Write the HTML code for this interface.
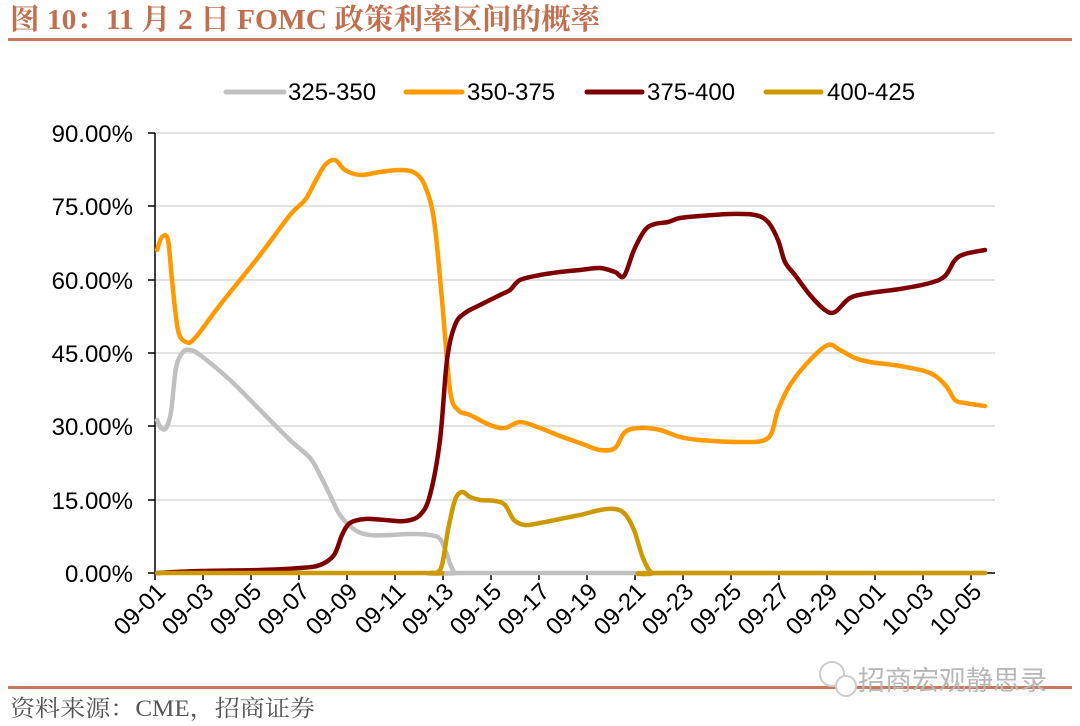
<!DOCTYPE html>
<html><head><meta charset="utf-8"><style>
body{margin:0;background:#fff;width:1080px;height:726px;overflow:hidden;}
svg{display:block}
</style></head><body>
<svg width="1080" height="726" xmlns="http://www.w3.org/2000/svg">
<text x="10" y="29" font-family="Liberation Serif, Noto Serif CJK SC, serif" font-weight="bold" font-size="29" fill="#c0704f" textLength="590" lengthAdjust="spacingAndGlyphs">图 10：11 月 2 日 FOMC 政策利率区间的概率</text>
<rect x="8" y="38" width="1064" height="3" fill="#c8775a"/>
<g font-family="Liberation Sans, Arial, sans-serif" font-size="24" fill="#000">
<line x1="226" y1="92" x2="284" y2="92" stroke="#c0c0c0" stroke-width="5" stroke-linecap="round"/><text x="288" y="100">325-350</text>
<line x1="406" y1="92" x2="462" y2="92" stroke="#ff9900" stroke-width="5" stroke-linecap="round"/><text x="467" y="100">350-375</text>
<line x1="587" y1="92" x2="642" y2="92" stroke="#7f0000" stroke-width="5" stroke-linecap="round"/><text x="647" y="100">375-400</text>
<line x1="766" y1="92" x2="821" y2="92" stroke="#cc9900" stroke-width="5" stroke-linecap="round"/><text x="827" y="100">400-425</text>
</g>
<g stroke="#d9d9d9" stroke-width="1.5">
<line x1="155" y1="133" x2="995" y2="133"/><line x1="155" y1="206" x2="995" y2="206"/><line x1="155" y1="280" x2="995" y2="280"/><line x1="155" y1="353" x2="995" y2="353"/><line x1="155" y1="426" x2="995" y2="426"/><line x1="155" y1="500" x2="995" y2="500"/>
</g>
<g stroke="#000" stroke-width="1.5">
<line x1="155" y1="133" x2="155" y2="573"/><line x1="148" y1="573" x2="995" y2="573"/>
<line x1="148" y1="133" x2="155" y2="133"/><line x1="148" y1="206" x2="155" y2="206"/><line x1="148" y1="280" x2="155" y2="280"/><line x1="148" y1="353" x2="155" y2="353"/><line x1="148" y1="426" x2="155" y2="426"/><line x1="148" y1="500" x2="155" y2="500"/>
</g>
<g font-family="Liberation Sans, Arial, sans-serif" font-size="24" text-anchor="end">
<text x="133" y="142">90.00%</text><text x="133" y="215">75.00%</text><text x="133" y="289">60.00%</text><text x="133" y="362">45.00%</text><text x="133" y="435">30.00%</text><text x="133" y="509">15.00%</text><text x="133" y="582">0.00%</text>
</g>
<g id="ticks" stroke="#000" stroke-width="1.5"></g>
<g id="xl" font-family="Liberation Sans, Arial, sans-serif" font-size="24" text-anchor="end"></g>
<g fill="none" stroke-width="4.5" stroke-linejoin="round" stroke-linecap="round">
<path id="p1" stroke="#c0c0c0"/>
<path id="p2" stroke="#ff9900"/>
<path id="p3" stroke="#7f0000"/>
<path id="p4" stroke="#cc9900"/>
</g>
<rect x="8" y="686" width="1064" height="3" fill="#c8775a"/>
<text x="10" y="716" font-family="Liberation Serif, Noto Serif CJK SC, serif" font-size="23" fill="#555" textLength="305" lengthAdjust="spacingAndGlyphs">资料来源：CME，招商证券</text>
<text x="858" y="690" font-family="Liberation Sans, Noto Sans CJK SC, sans-serif" font-size="27" fill="#b8b8b8">招商宏观静思录</text>
<circle cx="832" cy="674" r="12" fill="#fff" stroke="#ccc" stroke-width="2"/><circle cx="846" cy="686" r="10" fill="#fff" stroke="#ccc" stroke-width="2"/>
</svg>
<script>
var labels=["09-01","09-03","09-05","09-07","09-09","09-11","09-13","09-15","09-17","09-19","09-21","09-23","09-25","09-27","09-29","10-01","10-03","10-05"];
var t=document.getElementById('ticks'),xl=document.getElementById('xl'),ns="http://www.w3.org/2000/svg";
labels.forEach(function(l,i){var x=155+i*48.0;var ln=document.createElementNS(ns,'line');ln.setAttribute('x1',x);ln.setAttribute('x2',x);ln.setAttribute('y1',573);ln.setAttribute('y2',580);t.appendChild(ln);
var tx=document.createElementNS(ns,'text');tx.setAttribute('transform','translate('+(x+12)+',593) rotate(-45)');tx.textContent=l;xl.appendChild(tx);});
function sm(p){var d='M'+p[0][0]+','+p[0][1];for(var i=0;i<p.length-1;i++){var p0=p[i-1]||p[i],p1=p[i],p2=p[i+1],p3=p[i+2]||p2;
d+=' C'+(p1[0]+(p2[0]-p0[0])/6)+','+(p1[1]+(p2[1]-p0[1])/6)+' '+(p2[0]-(p3[0]-p1[0])/6)+','+(p2[1]-(p3[1]-p1[1])/6)+' '+p2[0]+','+p2[1];}return d;}
var s1=[[157,420],[161,428],[166,428],[171,412],[176,368],[183,352],[190,350],[200,355],[230,380],[260,410],[290,440],[310,458],[320,475],[330,495],[340,515],[355,530],[370,535],[390,535],[410,534],[430,535],[440,539],[446,552],[451,566],[456,573],[470,573],[985,573]];
var s2=[[157,250],[162,237],[168,240],[172,280],[178,330],[186,342],[195,338],[220,305],[260,255],[290,215],[305,200],[315,182],[325,165],[335,160],[345,170],[360,175],[380,172],[400,170],[415,173],[425,186],[434,220],[442,300],[450,390],[458,410],[470,415],[490,425],[505,428],[520,422],[540,428],[560,436],[580,443],[600,450],[615,448],[625,432],[640,428],[660,430],[680,437],[700,440],[740,442],[768,438],[778,410],[790,385],[810,360],[828,345],[840,350],[855,358],[870,362],[900,366],[930,373],[946,386],[955,400],[965,403],[985,406]];
var s3=[[157,573],[200,571],[260,570],[300,568],[320,565],[334,555],[342,535],[350,523],[365,519],[385,520],[405,521],[420,515],[430,495],[440,440],[447,360],[455,325],[465,313],[480,305],[500,295],[510,290],[520,280],[540,275],[560,272],[580,270],[600,268],[615,272],[624,276],[634,250],[645,230],[655,224],[668,222],[680,218],[700,216],[730,214],[755,215],[768,222],[778,240],[785,262],[795,275],[810,295],[825,310],[835,312],[850,298],[870,293],[900,289],[930,283],[945,276],[955,260],[965,254],[985,250]];
var s4=[[157,573],[420,573],[430,573],[441,568],[448,530],[455,500],[462,492],[470,497],[480,500],[495,501],[505,505],[514,520],[525,525],[540,523],[560,519],[580,515],[600,510],[615,509],[625,514],[634,530],[643,558],[652,573],[665,573],[985,573]];
document.getElementById('p1').setAttribute('d',sm(s1));document.getElementById('p2').setAttribute('d',sm(s2));
document.getElementById('p3').setAttribute('d',sm(s3));document.getElementById('p4').setAttribute('d',sm(s4));
</script>
</body></html>
